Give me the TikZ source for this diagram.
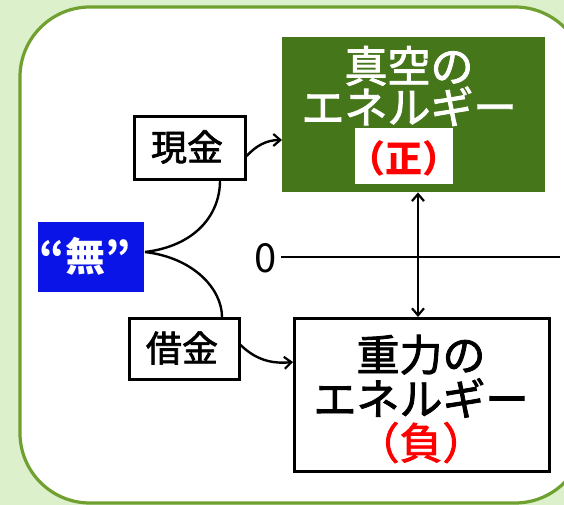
\documentclass[tikz,border=0pt]{standalone}
\usepackage{fontspec}
\setmainfont{Noto Sans CJK JP}
\newfontfamily\medjp{Noto Sans CJK JP}[FakeBold=2]
\usetikzlibrary{arrows.meta}
\definecolor{bgg}{HTML}{DCF0CC}
\definecolor{frameg}{HTML}{70A030}
\definecolor{darkg}{HTML}{46761A}
\definecolor{bluebox}{HTML}{0A14E6}
\tikzset{
  wbox/.style={draw=black, line width=2.6pt, fill=white, inner sep=0pt},
  lbl/.style={inner sep=0pt, font=\medjp\fontsize{36}{38}\selectfont},
  conn/.style={line width=2.4pt, black},
  barb/.tip={Straight Barb[length=7pt,width=12pt,line width=2.2pt]},
  arr/.style={conn, -barb},
}
\begin{document}
\begin{tikzpicture}[x=1pt,y=-1pt]
\useasboundingbox (0,0) rectangle (564,505);
\fill[bgg] (0,0) rectangle (564,505);
\draw[frameg, line width=3.2pt, fill=white, rounded corners=70pt] (20,7) rectangle (585,503);
% green box
\node[fill=darkg, minimum width=263pt, minimum height=155pt, inner sep=0pt, anchor=north west] (vac) at (282,37) {};
\node[inner sep=0pt, text=white, align=center, font=\medjp\fontsize{43}{37}\selectfont] (vacT) at (409,86) {真空の\\エネルギー};
\node[fill=white, minimum width=98pt, minimum height=55pt, inner sep=0pt] (posbg) at (404,156) {};
\node[inner sep=0pt, text=red, font=\fontsize{37}{39}\selectfont\bfseries] (pos) at (404,158) {（正）};
% gravity box
\node[wbox, minimum width=255pt, minimum height=153pt, anchor=north west] (grav) at (293,317) {};
\node[inner sep=0pt, align=center, font=\medjp\fontsize{43}{44}\selectfont] (gravT) at (421,399) {重力の\\エネルギー\\\textcolor{red}{（負）}};
% small boxes
\node[wbox, minimum width=111pt, minimum height=63pt, anchor=north west] (cash) at (133,115) {};
\node[lbl] (cashT) at (187,147) {現金};
\node[wbox, minimum width=110pt, minimum height=61pt, anchor=north west] (debt) at (128,317) {};
\node[lbl] (debtT) at (182,348) {借金};
\node[fill=bluebox, minimum width=106pt, minimum height=70pt, inner sep=0pt, anchor=north west] (mu) at (38,222) {};
\node[inner sep=0pt, text=white, font=\fontsize{40}{42}\selectfont\bfseries] (muT) at (85,256) {“無”};
% zero line
\node[inner sep=0pt, font=\fontsize{40}{42}\selectfont] (zero) at (266,258) {0};
\coordinate (lineR) at (560,257);
\draw[conn] (zero.east) ++(4,-1) coordinate (lineL) (lineL) -- (lineR);
% connectors
\coordinate (br) at (145,252);
\draw[conn] (br) .. controls (195,246) and (220,215) .. (cash.south -| 220,0);
\draw[conn] (br) .. controls (195,258) and (222,290) .. (debt.north -| 222,0);
\draw[arr] (cash.east |- 0,156) .. controls (256,146) and (266,140) .. (vac.west |- 0,140);
\draw[arr] (debt.east |- 0,345) .. controls (256,360) and (272,364) .. (grav.west |- 0,362);
\draw[conn, barb-barb] (vac.south -| 418,0) -- (grav.north -| 418,0);
\end{tikzpicture}
\end{document}
